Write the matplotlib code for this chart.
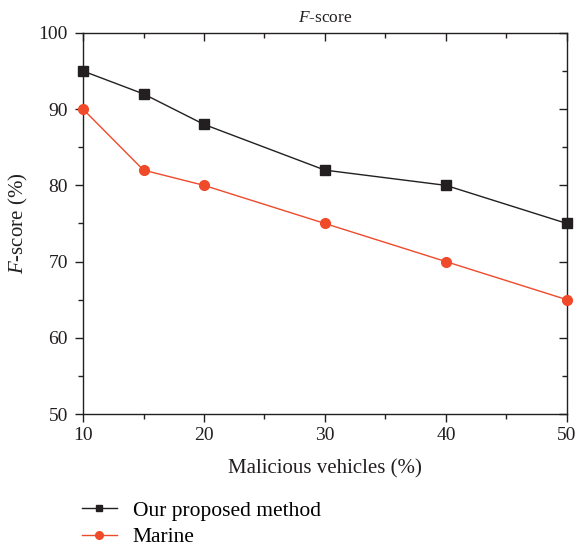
import matplotlib
matplotlib.use("Agg")
import matplotlib.pyplot as plt
from matplotlib.ticker import MultipleLocator
from matplotlib.lines import Line2D

plt.rcParams["font.family"] = ["Liberation Serif", "DejaVu Serif"]
plt.rcParams["mathtext.fontset"] = "custom"
plt.rcParams["mathtext.it"] = "Liberation Serif:italic"
plt.rcParams["mathtext.rm"] = "Liberation Serif"

vehicles = [10, 15, 20, 30, 40, 50]
ours = [95, 92, 88, 82, 80, 75]
marine = [90, 82, 80, 75, 70, 65]

black = "#231f20"
red = "#ef4a2a"

fig = plt.figure(figsize=(5.79, 5.49), dpi=100)
ax = fig.add_axes([0.1434, 0.2459, 0.8356, 0.6941])

ax.plot(vehicles, ours, color=black, lw=1.0, marker="s", ms=6.8, clip_on=False, zorder=3)
ax.plot(vehicles, marine, color=red, lw=1.0, marker="o", ms=7, clip_on=False, zorder=3)

ax.set_xlim(10, 50)
ax.set_ylim(50, 100)
ax.xaxis.set_major_locator(MultipleLocator(10))
ax.xaxis.set_minor_locator(MultipleLocator(5))
ax.yaxis.set_major_locator(MultipleLocator(10))
ax.yaxis.set_minor_locator(MultipleLocator(5))

for sp in ax.spines.values():
    sp.set_linewidth(1.0)
    sp.set_color(black)

# outward ticks on bottom/left, mirrored inward ticks on top/right
ax.tick_params(which="both", direction="out", bottom=True, left=True, top=False, right=False,
               labelsize=14, colors=black, width=1.0)
ax.tick_params(which="major", length=6)
ax.tick_params(which="minor", length=3.5)
ax.tick_params(axis="y", which="major", pad=5)

sec_x = ax.secondary_xaxis("top")
sec_x.xaxis.set_major_locator(MultipleLocator(10))
sec_x.xaxis.set_minor_locator(MultipleLocator(5))
sec_x.tick_params(which="both", direction="in", labeltop=False, width=1.0, colors=black)
sec_x.tick_params(which="major", length=6)
sec_x.tick_params(which="minor", length=3.5)
sec_x.spines["top"].set_visible(False)

sec_y = ax.secondary_yaxis("right")
sec_y.yaxis.set_major_locator(MultipleLocator(10))
sec_y.yaxis.set_minor_locator(MultipleLocator(5))
sec_y.tick_params(which="both", direction="in", labelright=False, width=1.0, colors=black)
sec_y.tick_params(which="major", length=6)
sec_y.tick_params(which="minor", length=3.5)
sec_y.spines["right"].set_visible(False)

ax.set_title(r"$\mathit{F}$-score", fontsize=12.5, color=black, pad=8)
ax.set_xlabel("Malicious vehicles (%)", fontsize=15, color=black, labelpad=11)
ax.set_ylabel(r"$\mathit{F}$-score (%)", fontsize=15, color=black, labelpad=6)

handles = [
    Line2D([], [], color=black, lw=1.0, marker="s", ms=5),
    Line2D([], [], color=red, lw=1.0, marker="o", ms=5.5),
]
fig.legend(handles, ["Our proposed method", "Marine"], loc="upper left",
           bbox_to_anchor=(0.127, 0.104), frameon=False, fontsize=15.5,
           handlelength=1.6, handletextpad=0.75, labelspacing=0.3, borderaxespad=0)

fig.savefig("out.png", dpi=100)
